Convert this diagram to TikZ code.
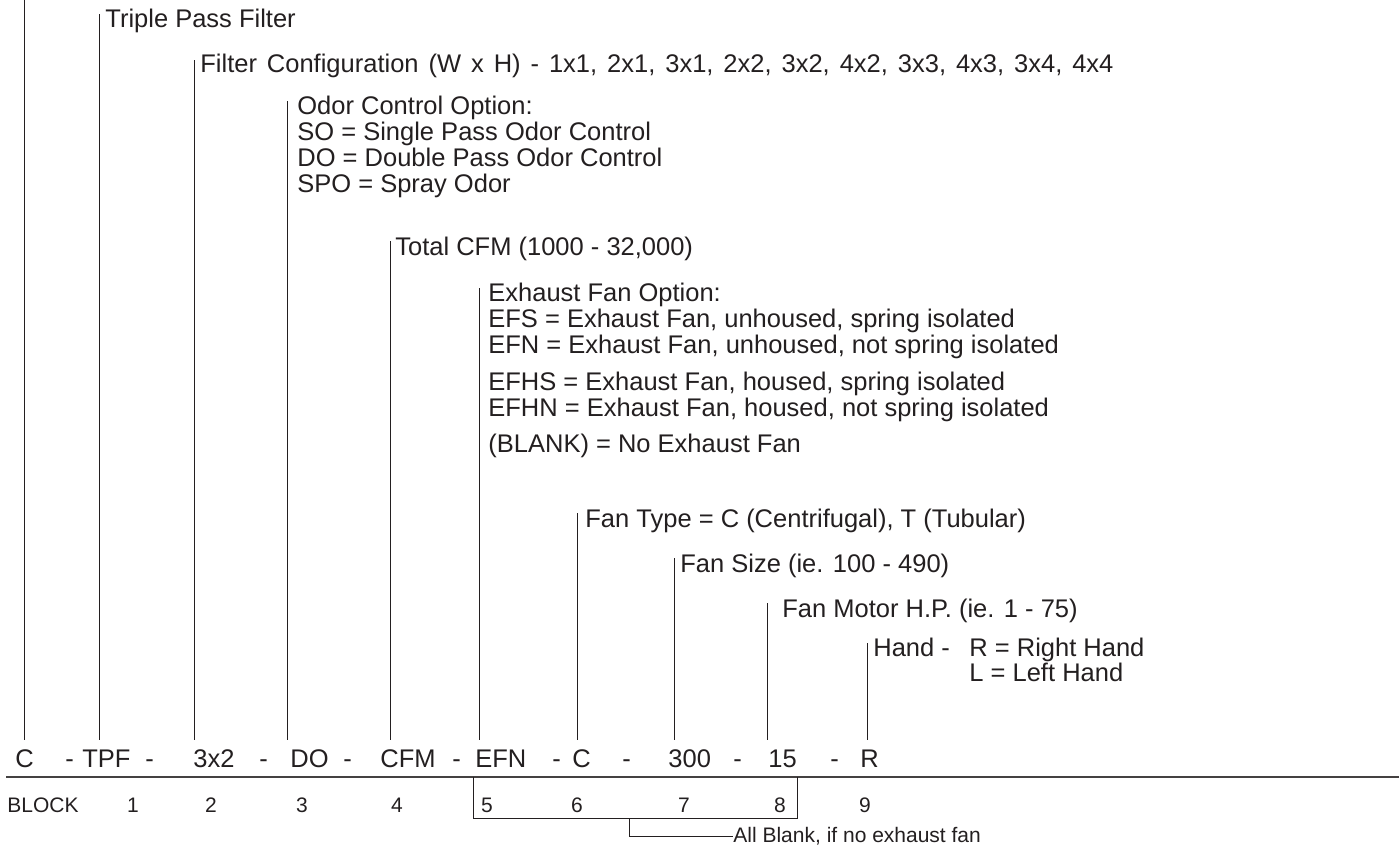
\documentclass[tikz,border=0pt]{standalone}
\usepackage{fontspec}
\setmainfont{Liberation Sans}
\definecolor{ink}{HTML}{231F20}
\begin{document}
\begin{tikzpicture}[x=0.5pt,y=-0.5pt,
    lbl/.style={anchor=base west,inner sep=0pt,text=ink,font=\fontsize{12.75}{15}\selectfont},
    code/.style={anchor=base west,inner xsep=0pt,inner ysep=4.5pt,text=ink,font=\fontsize{12.75}{15}\selectfont},
    blk/.style={anchor=base,inner sep=0pt,text=ink,font=\fontsize{10.5}{12}\selectfont},
    lead/.style={draw=ink,line width=0.5pt},
    rule/.style={draw=ink!85,line width=0.9pt}]
    \useasboundingbox (0,0) rectangle (1399,847);
    % descriptions
    \node[lbl] (lTPF) at (105,27) {Triple Pass Filter};
    \node[lbl] (lCfg) at (200,72) {\spaceskip=0.39em Filter Configuration (W x H) - 1x1, 2x1, 3x1, 2x2, 3x2, 4x2, 3x3, 4x3, 3x4, 4x4};
    \node[lbl] (lOdor) at (297,114) {Odor Control Option:};
    \node[lbl] (lSO) at (297,140) {SO = Single Pass Odor Control};
    \node[lbl] (lDO) at (297,166) {DO = Double Pass Odor Control};
    \node[lbl] (lSPO) at (297,192) {SPO = Spray Odor};
    \node[lbl] (lCFM) at (395,255) {Total CFM (1000 - 32,000)};
    \node[lbl] (lEF) at (488,301) {Exhaust Fan Option:};
    \node[lbl] (lEFS) at (488,327) {EFS = Exhaust Fan, unhoused, spring isolated};
    \node[lbl] (lEFN) at (488,353) {EFN = Exhaust Fan, unhoused, not spring isolated};
    \node[lbl] (lEFHS) at (488,390) {EFHS = Exhaust Fan, housed, spring isolated};
    \node[lbl] (lEFHN) at (488,416) {EFHN = Exhaust Fan, housed, not spring isolated};
    \node[lbl] (lNone) at (488,452) {(BLANK) = No Exhaust Fan};
    \node[lbl] (lFT) at (585,527) {Fan Type = C (Centrifugal), T (Tubular)};
    \node[lbl] (lFS) at (680,572) {Fan Size (ie. 100 - 490)};
    \node[lbl] (lHP) at (782,617) {Fan Motor H.P. (ie. 1 - 75)};
    \node[lbl] (lHand) at (873,656) {Hand -};
    \node[lbl] (lR) at (969,656) {R = Right Hand};
    \node[lbl] (lL) at (969,681) {L = Left Hand};
    % model code
    \node[code] (cC) at (15,767) {C};
    \node[code] (d1) at (65,767) {-};
    \node[code] (cTPF) at (82,767) {TPF};
    \node[code] (d2) at (145,767) {-};
    \node[code] (cCfg) at (193,767) {3x2};
    \node[code] (d3) at (259,767) {-};
    \node[code] (cOdor) at (290,767) {DO};
    \node[code] (d4) at (343,767) {-};
    \node[code] (cCFM) at (380,767) {CFM};
    \node[code] (d5) at (452,767) {-};
    \node[code] (cEF) at (475,767) {EFN};
    \node[code] (d6) at (552,767) {-};
    \node[code] (cFT) at (572,767) {C};
    \node[code] (d7) at (622,767) {-};
    \node[code] (cFS) at (668,767) {300};
    \node[code] (d8) at (733,767) {-};
    \node[code] (cHP) at (768,767) {15};
    \node[code] (d9) at (830,767) {-};
    \node[code] (cHand) at (860,767) {R};
    % leaders
    \coordinate (tC) at (24,0);
    \coordinate (tTPF) at (99,14);
    \coordinate (tCfg) at (194,60);
    \coordinate (tOdor) at (287,101);
    \coordinate (tCFM) at (390,241);
    \coordinate (tEF) at (479,288);
    \coordinate (tFT) at (577,513);
    \coordinate (tFS) at (674,558);
    \coordinate (tHP) at (767,603);
    \coordinate (tHand) at (867,643);
    \draw[lead] (tC) -- (tC |- cC.north);
    \draw[lead] (tTPF) -- (tTPF |- cTPF.north);
    \draw[lead] (tCfg) -- (tCfg |- cCfg.north);
    \draw[lead] (tOdor) -- (tOdor |- cOdor.north);
    \draw[lead] (tCFM) -- (tCFM |- cCFM.north);
    \draw[lead] (tEF) -- (tEF |- cEF.north);
    \draw[lead] (tFT) -- (tFT |- cFT.north);
    \draw[lead] (tFS) -- (tFS |- cFS.north);
    \draw[lead] (tHP) -- (tHP |- cHP.north);
    \draw[lead] (tHand) -- (tHand |- cHand.north);
    % rule and block numbers
    \coordinate (rl) at (6,777);
    \coordinate (rr) at (1399,777);
    \draw[rule] (rl) -- (rr);
    \node[blk,anchor=base west] (bBlock) at (7,812) {BLOCK};
    \node[blk] (b1) at (133,812) {1};
    \node[blk] (b2) at (211,812) {2};
    \node[blk] (b3) at (302,812) {3};
    \node[blk] (b4) at (397,812) {4};
    \node[blk] (b5) at (487,812) {5};
    \node[blk] (b6) at (577,812) {6};
    \node[blk] (b7) at (684,812) {7};
    \node[blk] (b8) at (780,812) {8};
    \node[blk] (b9) at (865,812) {9};
    % bracket for blocks 5-8
    \coordinate (kl) at (473,777);
    \coordinate (kr) at (797,777);
    \coordinate (kb) at (473,818);
    \coordinate (km) at (629,818);
    \draw[lead] (kl) -- (kb) -- (kr |- kb) -- (kr);
    \node[blk,anchor=west] (nAll) at (733,836) {All Blank, if no exhaust fan};
    \draw[lead] (km) |- (nAll.west);
\end{tikzpicture}
\end{document}
